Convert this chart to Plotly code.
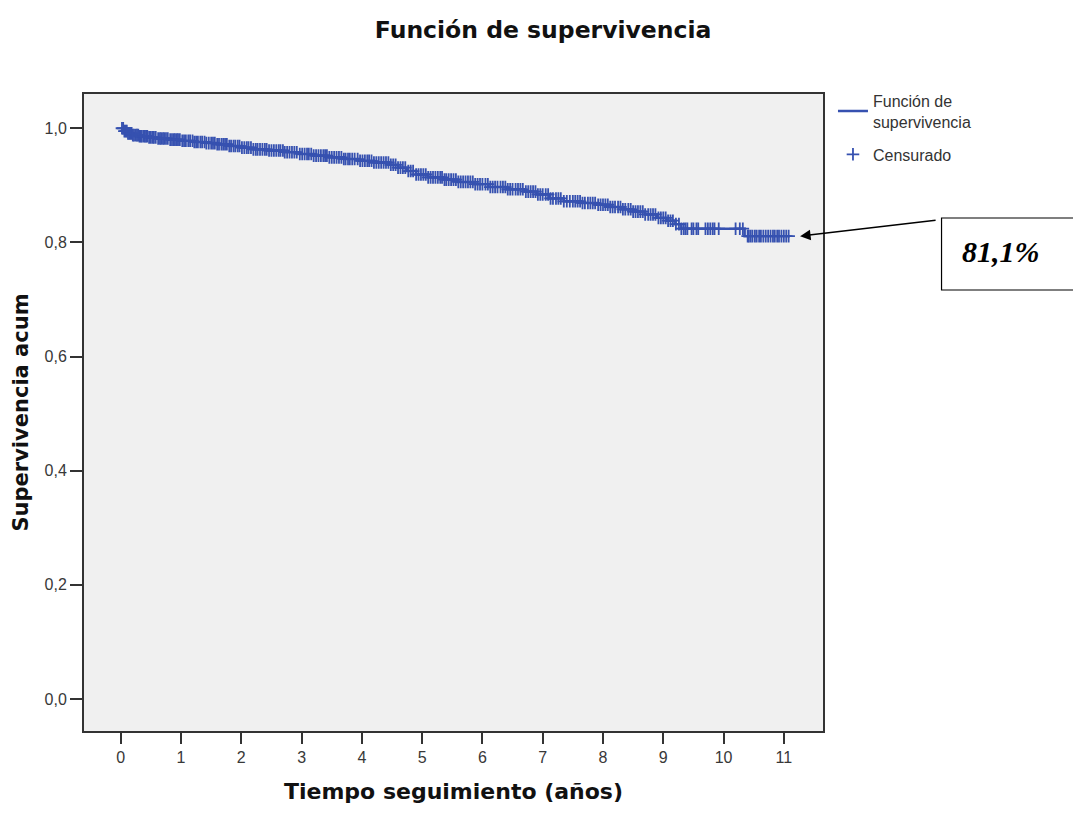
import plotly.graph_objects as go

# Kaplan-Meier step data (years, cumulative survival)
event_times = [0, 0.05, 0.12, 0.2, 0.3, 0.45, 0.6, 0.8, 1.0, 1.2, 1.4, 1.6, 1.8, 2.0, 2.2,
               2.45, 2.7, 2.95, 3.2, 3.45, 3.7, 3.95, 4.2, 4.45, 4.6, 4.75, 4.9, 5.1, 5.35,
               5.6, 5.85, 6.1, 6.4, 6.7, 6.9, 7.1, 7.35, 7.65, 7.9, 8.1, 8.3, 8.5, 8.7, 8.9,
               9.05, 9.2, 9.3, 10.35, 11.1]
survival = [1.0, 0.995, 0.991, 0.988, 0.986, 0.984, 0.982, 0.980, 0.978, 0.976, 0.974, 0.972,
            0.969, 0.966, 0.963, 0.961, 0.958, 0.955, 0.952, 0.949, 0.946, 0.943, 0.940, 0.936,
            0.931, 0.925, 0.919, 0.914, 0.910, 0.906, 0.902, 0.897, 0.893, 0.889, 0.884, 0.877,
            0.872, 0.869, 0.866, 0.862, 0.858, 0.854, 0.849, 0.843, 0.838, 0.832, 0.824, 0.811,
            0.811]

censored_times = [0.02, 0.04, 0.06, 0.08, 0.1, 0.12, 0.14, 0.16, 0.18, 0.2, 0.22, 0.25, 0.27, 0.29,
                  0.31, 0.33, 0.35, 0.38, 0.4, 0.42, 0.44, 0.47, 0.5, 0.53, 0.55, 0.58, 0.62, 0.65,
                  0.67, 0.7, 0.72, 0.75, 0.78, 0.82, 0.85, 0.88, 0.9, 0.93, 0.95, 0.98, 1.02, 1.05,
                  1.08, 1.12, 1.15, 1.19, 1.22, 1.25, 1.28, 1.32, 1.35, 1.39, 1.42, 1.46, 1.5, 1.53,
                  1.56, 1.6, 1.63, 1.67, 1.7, 1.73, 1.76, 1.8, 1.83, 1.87, 1.9, 1.94, 1.97, 2.01,
                  2.05, 2.09, 2.12, 2.16, 2.2, 2.24, 2.27, 2.31, 2.35, 2.39, 2.42, 2.46, 2.5, 2.54,
                  2.58, 2.62, 2.65, 2.69, 2.72, 2.76, 2.8, 2.84, 2.88, 2.92, 2.97, 3.01, 3.05, 3.09,
                  3.12, 3.16, 3.2, 3.24, 3.28, 3.32, 3.36, 3.39, 3.42, 3.46, 3.5, 3.54, 3.58, 3.62,
                  3.66, 3.7, 3.73, 3.77, 3.8, 3.84, 3.88, 3.93, 3.97, 4.01, 4.05, 4.09, 4.12, 4.16,
                  4.2, 4.24, 4.28, 4.32, 4.36, 4.4, 4.44, 4.48, 4.52, 4.56, 4.6, 4.64, 4.68, 4.72,
                  4.77, 4.81, 4.85, 4.9, 4.94, 4.98, 5.02, 5.06, 5.1, 5.14, 5.18, 5.22, 5.26, 5.3,
                  5.33, 5.37, 5.4, 5.44, 5.48, 5.52, 5.56, 5.6, 5.64, 5.68, 5.72, 5.76, 5.8, 5.84,
                  5.88, 5.92, 5.96, 6.0, 6.05, 6.09, 6.13, 6.17, 6.21, 6.25, 6.3, 6.34, 6.38, 6.42,
                  6.46, 6.5, 6.55, 6.59, 6.63, 6.67, 6.72, 6.76, 6.8, 6.84, 6.88, 6.92, 6.96, 7.0,
                  7.05, 7.09, 7.13, 7.17, 7.22, 7.26, 7.3, 7.35, 7.4, 7.45, 7.5, 7.54, 7.58, 7.62,
                  7.66, 7.7, 7.75, 7.79, 7.83, 7.87, 7.92, 7.96, 8.0, 8.04, 8.08, 8.12, 8.16, 8.2,
                  8.25, 8.29, 8.33, 8.37, 8.42, 8.46, 8.5, 8.54, 8.58, 8.62, 8.66, 8.7, 8.75, 8.79,
                  8.83, 8.87, 8.92, 8.96, 9.0, 9.04, 9.08, 9.12, 9.16, 9.21, 9.26, 9.3, 9.34, 9.37,
                  9.4, 9.47, 9.5, 9.55, 9.58, 9.7, 9.74, 9.78, 9.82, 9.85, 9.92, 10.2, 10.27, 10.32,
                  10.4, 10.42, 10.45, 10.48, 10.52, 10.55, 10.59, 10.62, 10.66, 10.7, 10.74, 10.78,
                  10.82, 10.85, 10.89, 10.92, 10.96, 11.0, 11.04, 11.08]

x_ticks = list(range(0, 12))
y_ticks = [0.0, 0.2, 0.4, 0.6, 0.8, 1.0]

final_label = "81,1%"


def surv_at(t):
    s = survival[0]
    for et, sv in zip(event_times, survival):
        if et <= t:
            s = sv
        else:
            break
    return s


censored_surv = [surv_at(t) for t in censored_times]

BLUE = "#3651b0"

fig = go.Figure()
fig.add_trace(go.Scatter(
    x=event_times, y=survival, mode="lines", line=dict(color=BLUE, width=2.5, shape="hv"),
    name="Función de<br>supervivencia", legendgroup="surv"))
fig.add_trace(go.Scatter(
    x=censored_times, y=censored_surv, mode="markers",
    marker=dict(symbol="cross-thin", size=9, line=dict(color=BLUE, width=1.8), color=BLUE),
    name="Censurado", legendgroup="cens"))

axis_font = dict(family="Liberation Sans, Arial, sans-serif", size=16, color="#383838")
title_font_x = dict(family="DejaVu Sans, sans-serif", size=22, color="#111111")
title_font_y = dict(family="DejaVu Sans, sans-serif", size=21, color="#111111")

fig.update_layout(
    width=1081, height=813,
    margin=dict(l=73, r=266, t=86, b=90),
    paper_bgcolor="white", plot_bgcolor="#f0f0f0",
    separators=",.",
    title=dict(text="<b>Función de supervivencia</b>", x=0.495, xanchor="center", y=0.973,
               yanchor="middle", font=dict(family="DejaVu Sans, sans-serif", size=23.5, color="#111111")),
    showlegend=True,
    legend=dict(x=1.0135, y=1.016, xanchor="left", yanchor="top", bgcolor="rgba(0,0,0,0)",
                font=dict(family="Liberation Sans, Arial, sans-serif", size=16, color="#333333"),
                tracegroupgap=9, itemwidth=30),
    xaxis=dict(range=[-0.61, 11.65], tickvals=x_ticks, ticks="outside", ticklen=11, tickwidth=2,
               tickcolor="#333333", showgrid=False, zeroline=False, showline=True, linecolor="#333333",
               linewidth=2, mirror=True, tickfont=axis_font,
               title=dict(text="<b>Tiempo seguimiento (años)</b>", font=title_font_x, standoff=18)),
    yaxis=dict(range=[-0.056, 1.06], tickvals=y_ticks, tickformat=".1f", ticks="outside", ticklen=12,
               tickwidth=2, tickcolor="#333333", showgrid=False, zeroline=False, showline=True,
               linecolor="#333333", linewidth=2, mirror=True, tickfont=axis_font,
               title=dict(text="<b>Supervivencia acum</b>", font=title_font_y, standoff=10)),
)

# annotation box
fig.add_shape(type="rect", xref="paper", yref="paper", x0=1.1604, x1=1.345, y0=0.6923, y1=0.8053,
              line=dict(color="black", width=1.2), fillcolor="white")
fig.add_annotation(xref="paper", yref="paper", x=1.2405, y=0.752, xanchor="center", yanchor="middle",
                   text="<b><i>" + final_label + "</i></b>", showarrow=False,
                   font=dict(family="Liberation Serif, Times New Roman, serif", size=30, color="black"))
# arrow pointing to the end of the curve
fig.add_annotation(x=11.27, y=survival[-1], xref="x", yref="y", text="", showarrow=True,
                   axref="pixel", ayref="pixel", ax=137, ay=-16, arrowhead=2, arrowsize=1.4,
                   arrowwidth=1.5, arrowcolor="black")

fig.write_html("out.html")
